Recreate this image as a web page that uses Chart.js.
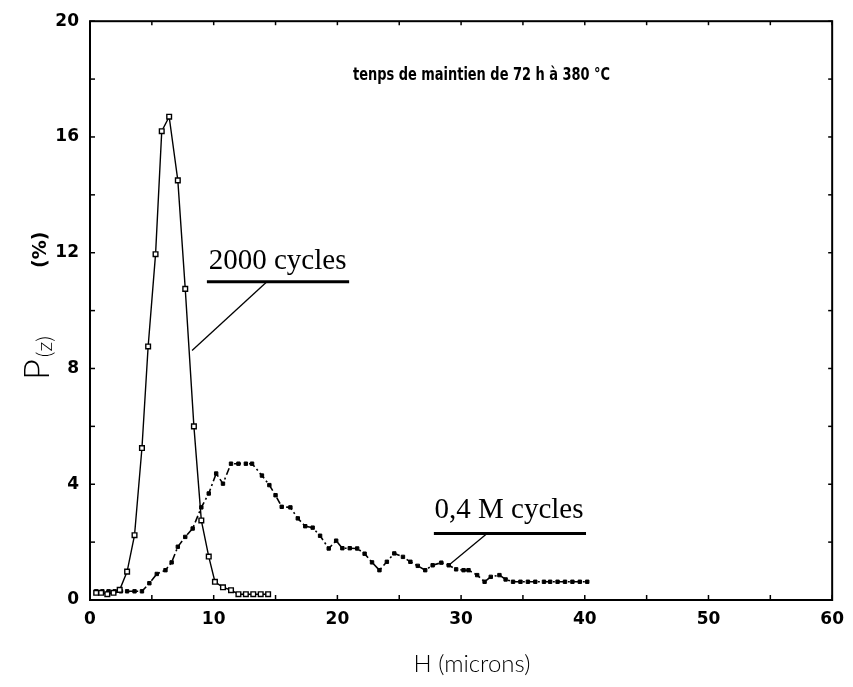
<!DOCTYPE html>
<html>
<head>
<meta charset="utf-8">
<script src="https://cdn.jsdelivr.net/npm/chart.js@4.4.1/dist/chart.umd.min.js"></script>
<style>
  html, body { margin: 0; padding: 0; background: #fff; }
  #wrap { width: 853px; height: 687px; }
</style>
</head>
<body>
<div id="wrap"><canvas id="c" width="853" height="687"></canvas></div>
<script>
// ---- data ----
const h2000 = [0.5, 0.9, 1.4, 1.9, 2.4, 3.0, 3.6, 4.2, 4.7, 5.3, 5.8, 6.4, 7.1, 7.7, 8.4, 9.0, 9.6, 10.1, 10.75, 11.4, 12.0, 12.6, 13.2, 13.8, 14.4];
const p2000 = [0.25, 0.25, 0.2, 0.25, 0.35, 0.98, 2.24, 5.25, 8.76, 11.95, 16.2, 16.7, 14.5, 10.75, 6.0, 2.75, 1.5, 0.63, 0.44, 0.34, 0.2, 0.2, 0.2, 0.2, 0.2];

const hM = [0.5, 1.0, 1.5, 2.0, 2.5, 3.0, 3.6, 4.2, 4.8, 5.4, 6.1, 6.6, 7.1, 7.7, 8.3, 9.0, 9.6, 10.2, 10.75, 11.4, 12.0, 12.6, 13.1, 13.9, 14.5, 15.0, 15.5, 16.2, 16.8, 17.4, 18.0, 18.6, 19.3, 19.9, 20.4, 21.0, 21.6, 22.2, 22.8, 23.4, 24.0, 24.6, 25.3, 25.9, 26.5, 27.1, 27.7, 28.4, 29.0, 29.6, 30.2, 30.6, 31.3, 31.9, 32.4, 33.1, 33.6, 34.2, 34.8, 35.4, 36.0, 36.7, 37.2, 37.8, 38.4, 39.0, 39.6, 40.2];
const pM = [0.3, 0.3, 0.3, 0.3, 0.3, 0.3, 0.3, 0.3, 0.58, 0.9, 1.03, 1.3, 1.84, 2.18, 2.47, 3.2, 3.68, 4.37, 4.02, 4.71, 4.71, 4.71, 4.71, 4.3, 3.97, 3.62, 3.22, 3.2, 2.82, 2.55, 2.5, 2.22, 1.78, 2.05, 1.79, 1.79, 1.78, 1.6, 1.3, 1.03, 1.32, 1.61, 1.49, 1.32, 1.18, 1.03, 1.2, 1.29, 1.2, 1.06, 1.03, 1.03, 0.86, 0.63, 0.8, 0.86, 0.71, 0.63, 0.63, 0.63, 0.63, 0.63, 0.63, 0.63, 0.63, 0.63, 0.63, 0.63];

const xTicks = [0, 10, 20, 30, 40, 50, 60];
const yTicks = [0, 4, 8, 12, 16, 20];

const titleText = "tenps de maintien de 72 h à 380 °C";
const label2000 = "2000 cycles";
const labelM = "0,4 M cycles";
const xTitle = "H (microns)";

const pts = (xs, ys) => xs.map((v, i) => ({ x: v, y: ys[i] }));

const decor = {
  id: 'decor',
  afterDraw(chart) {
    const { ctx, chartArea: a, scales: { x, y } } = chart;
    const X = v => x.getPixelForValue(v), Y = v => y.getPixelForValue(v);
    const line = (x1, y1, x2, y2) => { ctx.beginPath(); ctx.moveTo(x1, y1); ctx.lineTo(x2, y2); ctx.stroke(); };
    ctx.save();
    ctx.strokeStyle = '#000';
    ctx.fillStyle = '#000';
    // frame
    ctx.lineWidth = 2;
    ctx.strokeRect(a.left, a.top, a.right - a.left, a.bottom - a.top);
    // inward ticks
    ctx.lineWidth = 1.5;
    for (let v = 0; v <= 60; v += 5) { const px = X(v); line(px, a.bottom, px, a.bottom - 5); line(px, a.top, px, a.top + 4); }
    for (let v = 0; v <= 20; v += 2) { const py = Y(v); line(a.left, py, a.left + 5, py); line(a.right, py, a.right - 4, py); }

    // title inside plot
    ctx.font = 'bold 17px "DejaVu Sans Condensed", "DejaVu Sans"';
    ctx.textBaseline = 'alphabetic';
    const tw = ctx.measureText(titleText).width;
    ctx.save();
    ctx.translate(353, 80);
    ctx.scale(257 / tw, 1);
    ctx.fillText(titleText, 0, 0);
    ctx.restore();

    // series labels
    ctx.font = '29px "Liberation Serif", serif';
    ctx.textAlign = 'left';
    ctx.fillText(label2000, X(9.6), Y(11.45));
    ctx.fillText(labelM, X(27.85), Y(2.83));
    ctx.lineWidth = 3;
    line(X(9.45), Y(11.0), X(20.95), Y(11.0));
    line(X(27.8), Y(2.3), X(40.1), Y(2.3));
    ctx.lineWidth = 1.3;
    line(X(14.3), Y(11.0), X(8.25), Y(8.62));
    line(X(32.1), Y(2.3), X(29.0), Y(1.2));

    // x axis title
    ctx.font = '300 24px Lato, "DejaVu Sans"';
    ctx.textAlign = 'center';
    ctx.textBaseline = 'middle';
    ctx.fillText(xTitle, 472, 664);

    // y axis title (rotated)
    ctx.save();
    ctx.translate(36, 380);
    ctx.rotate(-Math.PI / 2);
    ctx.textAlign = 'left';
    ctx.textBaseline = 'alphabetic';
    ctx.font = '300 36px Lato, "DejaVu Sans"';
    ctx.fillText('P', 0, 13);
    let off = ctx.measureText('P').width + 2;
    ctx.font = '300 22px Lato, "DejaVu Sans"';
    ctx.fillText('(z)', off, 16);
    ctx.font = 'bold 19px "DejaVu Sans"';
    ctx.fillText('(%)', 112, 10);
    ctx.restore();

    ctx.restore();
  }
};

new Chart(document.getElementById('c'), {
  type: 'scatter',
  data: {
    datasets: [
      {
        label: label2000,
        data: pts(h2000, p2000),
        showLine: true,
        borderColor: '#000',
        borderWidth: 1.4,
        pointStyle: 'rect',
        pointRadius: 3.3,
        pointBackgroundColor: '#fff',
        pointBorderColor: '#000',
        pointBorderWidth: 1.4,
        tension: 0,
        order: 1
      },
      {
        label: labelM,
        data: pts(hM, pM),
        showLine: true,
        borderColor: '#000',
        borderWidth: 1.6,
        borderDash: [7, 3, 2, 3],
        pointStyle: 'rect',
        pointRadius: 2.4,
        pointBackgroundColor: '#000',
        pointBorderColor: '#000',
        pointBorderWidth: 1,
        tension: 0,
        order: 2
      }
    ]
  },
  options: {
    responsive: false,
    animation: false,
    devicePixelRatio: 1,
    layout: { padding: { left: 0, right: 20, top: 20, bottom: 0 } },
    plugins: { legend: { display: false }, tooltip: { enabled: false } },
    scales: {
      x: {
        type: 'linear', min: 0, max: 60,
        afterFit: s => { s.height = 87; },
        afterBuildTicks: s => { s.ticks = xTicks.map(v => ({ value: v })); },
        grid: { display: false, drawTicks: false },
        border: { display: false },
        ticks: { padding: 9, color: '#000', font: { family: '"DejaVu Sans"', weight: 'bold', size: 17 } }
      },
      y: {
        type: 'linear', min: 0, max: 20,
        afterFit: s => { s.width = 90; },
        afterBuildTicks: s => { s.ticks = yTicks.map(v => ({ value: v })); },
        grid: { display: false, drawTicks: false },
        border: { display: false },
        ticks: { padding: 11, color: '#000', font: { family: '"DejaVu Sans"', weight: 'bold', size: 17 } }
      }
    }
  },
  plugins: [decor]
});
</script>
</body>
</html>
